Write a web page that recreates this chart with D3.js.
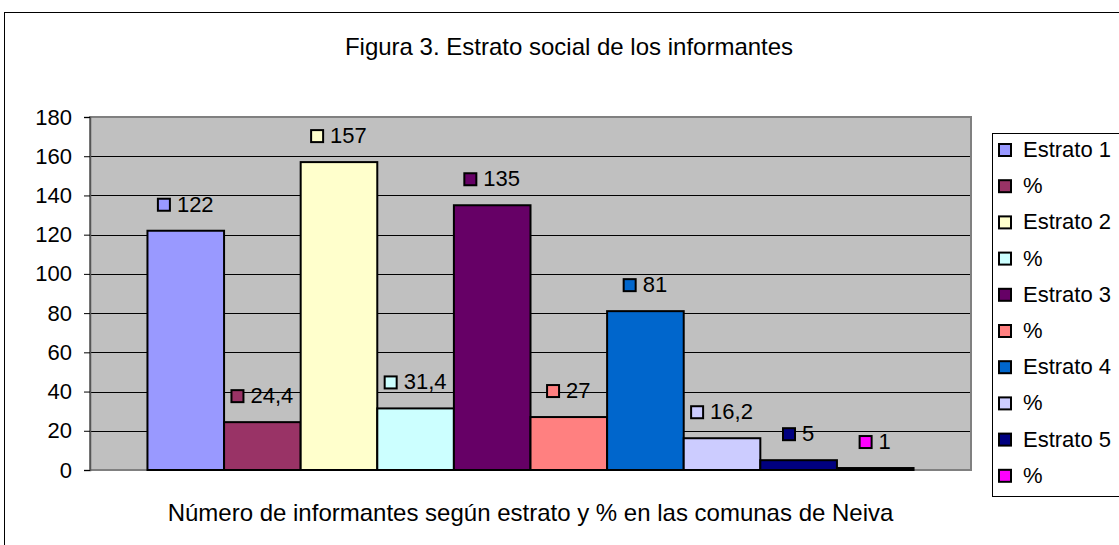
<!DOCTYPE html>
<html>
<head>
<meta charset="utf-8">
<script src="https://cdn.jsdelivr.net/npm/d3@7"></script>
<style>
  body { margin: 0; background: #fff; }
  svg text { font-family: "Liberation Sans", Arial, sans-serif; fill: #000; }
</style>
</head>
<body>
<script>
// series shown as bars (one category, ten series)
var seriesNames = ["Estrato 1", "%", "Estrato 2", "%", "Estrato 3", "%", "Estrato 4", "%", "Estrato 5", "%"];
var seriesValues = [122, 24.4, 157, 31.4, 135, 27, 81, 16.2, 5, 1];
var seriesLabels = ["122", "24,4", "157", "31,4", "135", "27", "81", "16,2", "5", "1"];
var seriesColors = ["#9999ff", "#993366", "#ffffcc", "#ccffff", "#660066", "#ff8080", "#0066cc", "#ccccff", "#000080", "#ff00ff"];
var yTicks = [0, 20, 40, 60, 80, 100, 120, 140, 160, 180];

var W = 1119, H = 545;
var plot = {left: 90, top: 117, right: 971, bottom: 470};

var svg = d3.select("body").append("svg")
    .attr("width", W)
    .attr("height", H);

// outer chart frame (runs off the right and bottom edge)
svg.append("rect")
    .attr("x", 4.5).attr("y", 12.5)
    .attr("width", 1200).attr("height", 600)
    .attr("fill", "#fff").attr("stroke", "#000");

svg.append("text")
    .attr("x", 569).attr("y", 55)
    .attr("text-anchor", "middle")
    .style("font-size", "24px")
    .text("Figura 3. Estrato social de los informantes");

var idx = d3.range(seriesValues.length);

var x = d3.scaleBand()
    .domain(idx)
    .range([plot.left, plot.right])
    .paddingInner(0)
    .paddingOuter(0.75);

var y = d3.scaleLinear()
    .domain([0, 180])
    .range([plot.bottom, plot.top]);

// plot area background
svg.append("rect")
    .attr("x", plot.left).attr("y", plot.top)
    .attr("width", plot.right - plot.left)
    .attr("height", plot.bottom - plot.top)
    .attr("fill", "#c0c0c0");

// gridlines
svg.selectAll(".grid")
    .data(yTicks.filter(function(d) { return d > 0 && d < 180; }))
    .enter().append("line")
    .attr("class", "grid")
    .attr("x1", plot.left).attr("x2", plot.right)
    .attr("y1", function(d) { return Math.round(y(d)) + 0.5; })
    .attr("y2", function(d) { return Math.round(y(d)) + 0.5; })
    .attr("stroke", "#000");

// plot border
svg.append("rect")
    .attr("x", plot.left).attr("y", plot.top)
    .attr("width", plot.right - plot.left)
    .attr("height", plot.bottom - plot.top)
    .attr("fill", "none")
    .attr("stroke", "#808080")
    .attr("stroke-width", 2);

// y axis
var yAxis = svg.append("g")
    .attr("transform", "translate(" + plot.left + ",0)")
    .call(d3.axisLeft(y).tickValues(yTicks).tickSize(6).tickPadding(12));
yAxis.select(".domain").attr("stroke", "#555").attr("stroke-width", 1.5);
yAxis.selectAll(".tick line").attr("stroke", "#000");
yAxis.selectAll(".tick text")
    .style("font-size", "22px")
    .style("font-family", "'Liberation Sans', Arial, sans-serif")
    .attr("fill", "#000");

// bars
svg.selectAll(".bar")
    .data(idx)
    .enter().append("rect")
    .attr("class", "bar")
    .attr("x", function(i) { return x(i); })
    .attr("y", function(i) { return y(seriesValues[i]); })
    .attr("width", x.bandwidth())
    .attr("height", function(i) { return plot.bottom - y(seriesValues[i]); })
    .attr("fill", function(i) { return seriesColors[i]; })
    .attr("stroke", "#000")
    .attr("stroke-width", 2);

// data labels: small colour key + value, centred above each bar
var labels = svg.selectAll(".lab")
    .data(idx)
    .enter().append("g")
    .attr("class", "lab");

labels.append("rect")
    .attr("width", 12).attr("height", 12)
    .attr("fill", function(i) { return seriesColors[i]; })
    .attr("stroke", "#000")
    .attr("stroke-width", 2);

labels.append("text")
    .attr("x", 19)
    .attr("y", 13)
    .style("font-size", "22px")
    .text(function(i) { return seriesLabels[i]; });

labels.each(function(i) {
    var g = d3.select(this);
    var tw = g.select("text").node().getComputedTextLength();
    var total = 19 + tw;
    var cx = x(i) + x.bandwidth() / 2;
    var top = y(seriesValues[i]) - 32;
    g.attr("transform", "translate(" + (cx - total / 2) + "," + top + ")");
});

// x axis title
svg.append("text")
    .attr("x", (plot.left + plot.right) / 2)
    .attr("y", 521)
    .attr("text-anchor", "middle")
    .style("font-size", "24px")
    .text("Número de informantes según estrato y % en las comunas de Neiva");

// legend
var legend = svg.append("g").attr("transform", "translate(992,133)");
legend.append("rect")
    .attr("x", 0.5).attr("y", 0.5)
    .attr("width", 300).attr("height", 363)
    .attr("fill", "#fff").attr("stroke", "#000");

var items = legend.selectAll(".item")
    .data(idx)
    .enter().append("g")
    .attr("class", "item")
    .attr("transform", function(i) { return "translate(7," + (11 + i * 36.2) + ")"; });

items.append("rect")
    .attr("width", 12).attr("height", 12)
    .attr("fill", function(i) { return seriesColors[i]; })
    .attr("stroke", "#000")
    .attr("stroke-width", 2);

items.append("text")
    .attr("x", 24)
    .attr("y", 13)
    .style("font-size", "22px")
    .text(function(i) { return seriesNames[i]; });
</script>
</body>
</html>
